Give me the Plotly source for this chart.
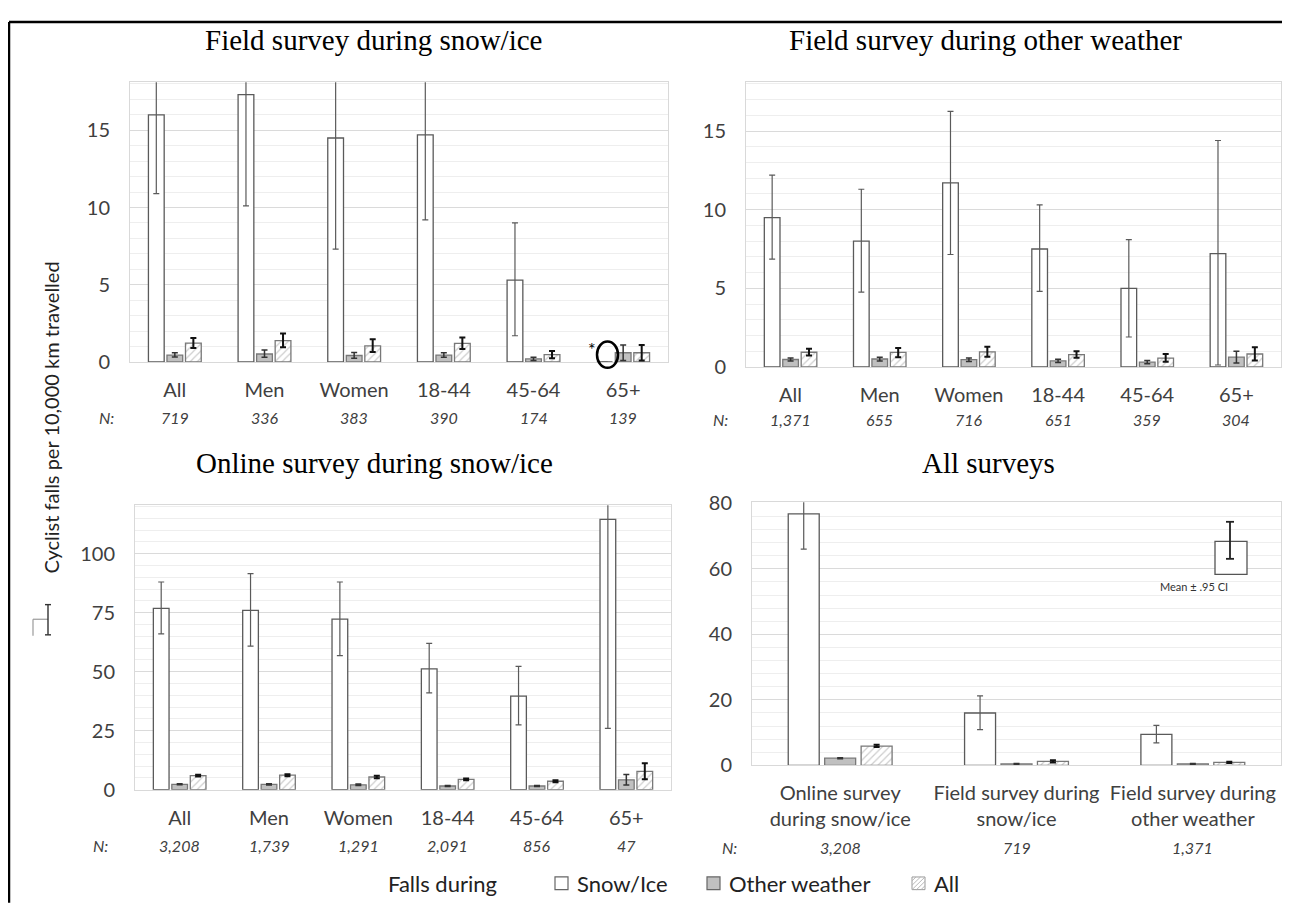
import plotly.graph_objects as go

# page has an 8px body margin: figure is sized to fit exactly inside it
OFF = 8
W, H = 1290 - 2 * OFF, 914 - 2 * OFF
def px(x): return (x - OFF) / W
def py(y): return 1 - (y - OFF) / H

# ---------------- data ----------------
groups = ["All", "Men", "Women", "18-44", "45-64", "65+"]

# Field survey during snow/ice
a_snow = [16.0, 17.3, 14.5, 14.7, 5.3, 0.0]
a_snow_lo = [10.9, 10.1, 7.3, 9.2, 1.7, 0.0]
a_snow_hi = [21.2, 24.5, 21.8, 20.2, 9.0, 0.0]
a_other = [0.45, 0.52, 0.42, 0.45, 0.2, 0.6]
a_other_lo = [0.33, 0.3, 0.25, 0.3, 0.1, 0.1]
a_other_hi = [0.6, 0.78, 0.62, 0.6, 0.3, 1.1]
a_all = [1.22, 1.38, 1.05, 1.2, 0.48, 0.6]
a_all_lo = [0.9, 0.95, 0.65, 0.85, 0.25, 0.1]
a_all_hi = [1.55, 1.85, 1.48, 1.58, 0.72, 1.1]
a_n = ["719", "336", "383", "390", "174", "139"]

# Field survey during other weather
b_snow = [9.5, 8.0, 11.7, 7.5, 5.0, 7.2]
b_snow_lo = [6.85, 4.75, 7.15, 4.8, 1.9, 0.12]
b_snow_hi = [12.2, 11.3, 16.25, 10.3, 8.1, 14.4]
b_other = [0.47, 0.5, 0.46, 0.38, 0.3, 0.62]
b_other_lo = [0.37, 0.38, 0.35, 0.28, 0.2, 0.25]
b_other_hi = [0.57, 0.62, 0.57, 0.48, 0.4, 1.0]
b_all = [0.93, 0.92, 0.95, 0.78, 0.56, 0.82]
b_all_lo = [0.72, 0.62, 0.65, 0.58, 0.32, 0.4]
b_all_hi = [1.15, 1.2, 1.28, 1.0, 0.82, 1.25]
b_n = ["1,371", "655", "716", "651", "359", "304"]

# Online survey during snow/ice
c_snow = [76.8, 76.0, 72.3, 51.2, 39.7, 114.5]
c_snow_lo = [66.0, 60.8, 56.8, 41.0, 27.5, 26.0]
c_snow_hi = [88.0, 91.5, 88.0, 62.0, 52.3, 203.0]
c_other = [2.3, 2.3, 2.1, 1.6, 1.6, 4.2]
c_other_lo = [2.1, 2.0, 1.8, 1.4, 1.4, 2.0]
c_other_hi = [2.5, 2.6, 2.4, 1.8, 1.8, 6.5]
c_all = [6.0, 6.2, 5.4, 4.4, 3.6, 7.8]
c_all_lo = [5.6, 5.7, 4.9, 4.0, 3.2, 4.5]
c_all_hi = [6.4, 6.6, 5.9, 4.8, 4.0, 11.2]
c_n = ["3,208", "1,739", "1,291", "2,091", "856", "47"]

# All surveys
surveys = ["Online survey<br>during snow/ice", "Field survey during<br>snow/ice",
           "Field survey during<br>other weather"]
d_snow = [76.8, 16.0, 9.5]
d_snow_lo = [66.0, 10.9, 6.85]
d_snow_hi = [88.0, 21.2, 12.2]
d_other = [2.2, 0.45, 0.47]
d_other_lo = [2.05, 0.33, 0.37]
d_other_hi = [2.35, 0.6, 0.57]
d_all = [5.9, 1.22, 0.93]
d_all_lo = [5.6, 0.9, 0.72]
d_all_hi = [6.3, 1.55, 1.15]
d_n = ["3,208", "719", "1,371"]

series_names = ["Snow/Ice", "Other weather", "All"]

SANS = "Lato, 'Open Sans', sans-serif"
SERIF = "'Liberation Serif', 'Times New Roman', serif"
TICK = "#404040"

WHITE_LINE = "#5a5a5a"
GRAY_FILL = "#c0c0c0"
GRAY_LINE = "#787878"
HATCH = "#9c9c9c"

styles = {
    "Snow/Ice": dict(marker=dict(color="white", line=dict(color=WHITE_LINE, width=1.3)),
                     err=dict(color="#5a5a5a", thickness=1.2, width=3)),
    "Other weather": dict(marker=dict(color=GRAY_FILL, line=dict(color=GRAY_LINE, width=1.3)),
                          err=dict(color="#333333", thickness=1.5, width=3)),
    "All": dict(marker=dict(color="white", line=dict(color=GRAY_LINE, width=1.3),
                            pattern=dict(shape="/", fgcolor=HATCH, bgcolor="white",
                                         size=5, solidity=0.25)),
                err=dict(color="#111111", thickness=2, width=3)),
}

panels = [
    dict(ax="", cats=groups, vals=[(a_snow, a_snow_lo, a_snow_hi), (a_other, a_other_lo, a_other_hi),
                                   (a_all, a_all_lo, a_all_hi)], n=a_n,
         xd=(130, 668), yd=(72, 359), rng=[0, 18.1], dtick=5, minor=1,
         title="Field survey during snow/ice", tx=373, ty=29, nlab=(106, 416)),
    dict(ax="2", cats=groups, vals=[(b_snow, b_snow_lo, b_snow_hi), (b_other, b_other_lo, b_other_hi),
                                    (b_all, b_all_lo, b_all_hi)], n=b_n,
         xd=(746, 1281), yd=(72, 364), rng=[0, 18.1], dtick=5, minor=1,
         title="Field survey during other weather", tx=985, ty=29, nlab=(721, 418)),
    dict(ax="3", cats=groups, vals=[(c_snow, c_snow_lo, c_snow_hi), (c_other, c_other_lo, c_other_hi),
                                    (c_all, c_all_lo, c_all_hi)], n=c_n,
         xd=(135, 671), yd=(506, 798), rng=[0, 120.5], dtick=25, minor=5,
         title="Online survey during snow/ice", tx=374, ty=463, nlab=(100, 855)),
    dict(ax="4", cats=surveys, vals=[(d_snow, d_snow_lo, d_snow_hi), (d_other, d_other_lo, d_other_hi),
                                     (d_all, d_all_lo, d_all_hi)], n=d_n,
         xd=(752, 1281), yd=(503, 773), rng=[0, 80.3], dtick=20, minor=4,
         title="All surveys", tx=988, ty=463, nlab=(729, 857)),
]

fig = go.Figure()
annotations = []
for pi, p in enumerate(panels):
    xa, ya = "x" + p["ax"], "y" + p["ax"]
    for si, name in enumerate(series_names):
        v, lo, hi = p["vals"][si]
        st = styles[name]
        up = [h - m for m, h in zip(v, hi)]
        dn = [m - l for m, l in zip(v, lo)]
        fig.add_trace(go.Bar(
            x=p["cats"], y=v, name=name, xaxis=xa, yaxis=ya,
            marker=st["marker"], legendgroup=name, showlegend=False,
            error_y=dict(type="data", symmetric=False, array=up, arrayminus=dn,
                         visible=True, **st["err"]),
            hoverinfo="skip",
        ))
    key = p["ax"]
    fig.layout["xaxis" + key] = dict(
        domain=[px(p["xd"][0]), px(p["xd"][1])], anchor=ya, type="category",
        showline=True, linecolor="#d9d9d9", linewidth=1, mirror=True, showgrid=False,
        ticks="", tickfont=dict(family=SANS, size=20, color=TICK), ticklabelstandoff=10,
    )
    fig.layout["yaxis" + key] = dict(
        domain=[py(p["yd"][1]), py(p["yd"][0])], anchor=xa, range=p["rng"],
        showline=True, linecolor="#d9d9d9", linewidth=1, mirror=True,
        showgrid=True, gridcolor="#dadada", gridwidth=1, dtick=p["dtick"], zeroline=False,
        minor=dict(dtick=p["minor"], showgrid=True, gridcolor="#eeeeee", gridwidth=1),
        ticks="", tickfont=dict(family=SANS, size=20, color=TICK), ticklabelstandoff=15,
    )
    annotations.append(dict(text=p["title"], x=px(p["tx"]), y=py(p["ty"]), xref="paper", yref="paper",
                            showarrow=False, xanchor="center", yanchor="middle",
                            font=dict(family=SERIF, size=29, color="black")))
    annotations.append(dict(text="<i>N:</i>", x=px(p["nlab"][0]), y=py(p["nlab"][1]), xref="paper",
                            yref="paper", showarrow=False, xanchor="center", yanchor="middle",
                            font=dict(family=SANS, size=16, color=TICK)))
    for c, nv in zip(p["cats"], p["n"]):
        annotations.append(dict(text="<i>" + nv + "</i>", x=c, xref=xa, y=py(p["nlab"][1]),
                                yref="paper", showarrow=False, xanchor="center", yanchor="middle",
                                font=dict(family=SANS, size=16, color=TICK)))

# shared y title
annotations.append(dict(text="Cyclist falls per 10,000 km travelled", x=px(37), y=py(416),
                        xref="paper", yref="paper", showarrow=False, textangle=-90,
                        font=dict(family=SANS, size=20, color="#222222")))
# CI key text
annotations.append(dict(text="Mean ± .95 CI", x=px(1230), y=py(589), xref="paper", yref="paper",
                        showarrow=False, font=dict(family=SANS, size=11, color="#333333")))
# asterisk
annotations.append(dict(text="*", x=px(592), y=py(346), xref="paper", yref="paper",
                        showarrow=False, font=dict(family=SANS, size=18, color="#000000")))

shapes = []
def line(x0, y0, x1, y1, color, w):
    shapes.append(dict(type="line", xref="paper", yref="paper", x0=px(x0), y0=py(y0),
                       x1=px(x1), y1=py(y1), line=dict(color=color, width=w)))
def rect(x0, y0, x1, y1, lc, fc, w=1.2):
    shapes.append(dict(type="rect", xref="paper", yref="paper", x0=px(x0), x1=px(x1),
                       y0=py(y1), y1=py(y0), line=dict(color=lc, width=w), fillcolor=fc))

# outer border (left + top)
line(9, 10, 9, 914, "black", 2.5)
line(9, 10, 1290, 10, "black", 2.5)
# ellipse around 65+ snow bar
shapes.append(dict(type="circle", xref="paper", yref="paper", x0=px(597), x1=px(618),
                   y0=py(365), y1=py(338), line=dict(color="black", width=2.5)))
# Mean ± CI key
rect(1215, 543, 1247, 577, "#555555", "white", 1.3)
line(1230, 523, 1230, 561, "#222222", 1.8)
line(1226, 523, 1234, 523, "#222222", 1.8)
line(1226, 561, 1234, 561, "#222222", 1.8)
# small key fragment at left
line(33, 623, 48, 623, "#9a9a9a", 1.2)
line(33, 623, 33, 640, "#9a9a9a", 1.2)
line(48, 608, 48, 639, "#333333", 1.4)
line(45, 608, 51, 608, "#333333", 1.4)
line(45, 639, 51, 639, "#333333", 1.4)

# legend (drawn as key boxes + text)
LEG_Y = 894
LFONT = dict(family=SANS, size=22, color="#222222")
annotations.append(dict(text="Falls during", x=px(386), y=py(LEG_Y), xref="paper", yref="paper",
                        showarrow=False, xanchor="left", yanchor="middle", font=LFONT))
leg_items = [("Snow/Ice", 555), ("Other weather", 707), ("All", 912)]
for name, sx in leg_items:
    if name == "Snow/Ice":
        rect(sx, LEG_Y - 6.5, sx + 13, LEG_Y + 6.5, "#666666", "white", 1.2)
    elif name == "Other weather":
        rect(sx, LEG_Y - 6.5, sx + 13, LEG_Y + 6.5, "#666666", GRAY_FILL, 1.2)
    else:
        rect(sx, LEG_Y - 6.5, sx + 13, LEG_Y + 6.5, "#999999", "white", 1.0)
        for k in range(-2, 3):
            x0 = sx + 6.5 + k * 4.5 - 6.5
            x1 = sx + 6.5 + k * 4.5 + 6.5
            y0, y1 = LEG_Y + 6.5, LEG_Y - 6.5
            if x0 < sx:
                y0 = y0 - (sx - x0); x0 = sx
            if x1 > sx + 13:
                y1 = y1 + (x1 - sx - 13); x1 = sx + 13
            line(x0, y0, x1, y1, "#b0b0b0", 0.9)
    annotations.append(dict(text=name, x=px(sx + 20), y=py(LEG_Y), xref="paper", yref="paper",
                            showarrow=False, xanchor="left", yanchor="middle", font=LFONT))

fig.update_layout(
    width=W, height=H, margin=dict(l=0, r=0, t=0, b=0),
    paper_bgcolor="white", plot_bgcolor="white",
    barmode="group", bargap=0.38, bargroupgap=0.15,
    annotations=annotations, shapes=shapes,
    showlegend=False,
)

fig.write_html("out.html")
